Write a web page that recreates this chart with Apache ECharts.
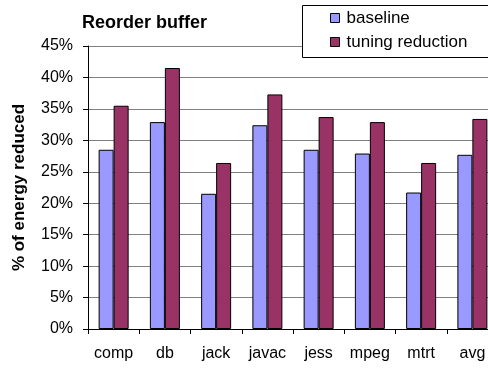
<!DOCTYPE html>
<html>
<head>
<meta charset="utf-8">
<script src="https://cdn.jsdelivr.net/npm/echarts@6/dist/echarts.min.js"></script>
<style>
html,body{margin:0;padding:0;background:#fff;overflow:hidden;width:488px;height:368px;}
#chart{width:498px;height:368px;}
</style>
</head>
<body>
<div id="chart"></div>
<script>
const categories = ['comp', 'db', 'jack', 'javac', 'jess', 'mpeg', 'mtrt', 'avg'];
const baseline = [28.5, 32.9, 21.5, 32.4, 28.5, 27.9, 21.7, 27.7];
const tuningReduction = [35.5, 41.5, 26.4, 37.3, 33.7, 32.9, 26.4, 33.4];
const yTicks = { min: 0, max: 45, interval: 5 };

const FONT = '"Liberation Sans", Arial, sans-serif';
const chart = echarts.init(document.getElementById('chart'), null, { renderer: 'canvas' });
chart.setOption({
  animation: false,
  backgroundColor: '#ffffff',
  textStyle: { fontFamily: FONT, color: '#000' },
  title: {
    text: 'Reorder buffer',
    left: 82, top: 14, padding: 0,
    textStyle: { fontFamily: FONT, fontSize: 18, fontWeight: 'bold', color: '#000' }
  },
  graphic: [{
    type: 'rect', z: 3, silent: true,
    shape: { x: 302.5, y: 5.5, width: 220, height: 52 },
    style: { fill: '#fff', stroke: '#000', lineWidth: 1 }
  }],
  legend: {
    orient: 'vertical',
    left: 302, top: 5, z: 5,
    padding: [4, 20, 7, 28],
    itemWidth: 9, itemHeight: 9, itemGap: 6,
    icon: 'rect',
    itemStyle: { borderColor: '#000', borderWidth: 1 },
    textStyle: { fontFamily: FONT, fontSize: 17, color: '#000', lineHeight: 18, padding: [0, 0, 0, 2] },
    data: ['baseline', 'tuning reduction']
  },
  grid: { left: 88, top: 46, right: 0, bottom: 39, containLabel: false },
  xAxis: {
    type: 'category',
    data: categories,
    axisLine: { lineStyle: { color: '#000', width: 1 } },
    axisTick: { show: true, alignWithLabel: false, inside: false, length: 5, interval: 0, lineStyle: { color: '#000' } },
    axisLabel: { fontFamily: FONT, fontSize: 16, color: '#000', margin: 17, interval: 0 },
    splitLine: { show: false }
  },
  yAxis: {
    type: 'value',
    min: yTicks.min, max: yTicks.max, interval: yTicks.interval,
    name: '% of energy reduced',
    nameLocation: 'middle',
    nameRotate: 90,
    nameGap: 60,
    nameTextStyle: { fontFamily: FONT, fontSize: 17, fontWeight: 'bold', color: '#000' },
    axisLine: { show: true, lineStyle: { color: '#000', width: 1 } },
    axisTick: { show: true, length: 5, lineStyle: { color: '#000' } },
    axisLabel: { fontFamily: FONT, fontSize: 16, color: '#000', margin: 15, formatter: '{value}%' },
    splitLine: { show: true, lineStyle: { color: '#808080', width: 1 } }
  },
  series: [
    {
      name: 'baseline', type: 'bar', data: baseline,
      barWidth: 15, barGap: '0%',
      itemStyle: { color: '#9999FF', borderColor: '#000', borderWidth: 1 }
    },
    {
      name: 'tuning reduction', type: 'bar', data: tuningReduction,
      barWidth: 15, barGap: '0%',
      itemStyle: { color: '#993366', borderColor: '#000', borderWidth: 1 }
    }
  ]
});
</script>
</body>
</html>
